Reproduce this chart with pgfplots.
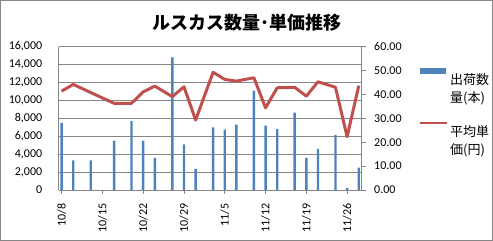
\documentclass[border=0pt]{standalone}
\usepackage{fontspec}
\setmainfont{Carlito}
\newfontfamily\cjk{Noto Sans CJK JP}
\usepackage{pgfplots}
\pgfplotsset{compat=1.18}
\usepackage{pgfplotstable}
\definecolor{barblue}{HTML}{4F81BD}
\definecolor{linered}{HTML}{C0504D}
\definecolor{gridgray}{HTML}{868686}
\pgfplotstableread{
day qty price
0 7500 41.4
2 3300 44.2
5 3300 40.8
9 5500 36.3
12 7700 36.3
14 5500 41.1
16 3600 43.5
19 14800 39.1
21 5100 43.2
23 2350 29.3
26 7000 49.3
28 6750 46.3
30 7300 45.6
33 11100 47.0
35 7200 34.4
37 6800 42.8
40 8650 43.0
42 3600 39.3
44 4600 45.3
47 6150 43.0
49 200 22.3
51 2500 43.7
}\data
\begin{document}
\begin{tikzpicture}
\begin{axis}[
  at={(58.7pt,51pt)}, anchor=south west,
  scale only axis, width=303pt, height=143.3pt,
  xmin=-0.5, xmax=51.5, ymin=0, ymax=16000,
  axis y line*=left, axis x line*=bottom,
  axis line style={-, gridgray, line width=0.8pt},
  ytick={0,2000,...,16000},
  scaled y ticks=false,
  xtick={0,7,...,49},
  xticklabels={10/8,10/15,10/22,10/29,11/5,11/12,11/19,11/26},
  x tick label style={yshift=-6pt, rotate=90, anchor=east},
  y tick label style={xshift=-9pt},
  yticklabel style={/pgf/number format/.cd, fixed, 1000 sep={,}, assume math mode=true},
  ymajorgrids, grid style={gridgray, line width=0.8pt},
  tick style={gridgray, line width=0.8pt},
  ytick style={draw=none},
  tick align=outside, major tick length=4pt,
  tick label style={font=\fontsize{12}{14}\selectfont},
]
\addplot[ybar, bar width=2.4pt, fill=barblue, draw=none] table[x=day,y=qty]{\data};
\end{axis}
\begin{axis}[
  at={(58.7pt,51pt)}, anchor=south west,
  scale only axis, width=303pt, height=143.3pt,
  xmin=-0.5, xmax=51.5, ymin=0, ymax=60,
  axis y line*=right, axis x line=none,
  axis line style={-, gridgray, line width=0.8pt},
  ytick={0,10,...,60},
  tick style={gridgray, line width=0.8pt},
  tick align=outside, major tick length=4pt,
  y tick label style={xshift=5pt},
  tick label style={font=\fontsize{12}{14}\selectfont},
  yticklabel style={/pgf/number format/.cd, fixed, fixed zerofill, precision=2, assume math mode=true},
  legend style={draw=none, fill=none, at={(1.178,0.538)}, anchor=west,
    font=\cjk\fontsize{13}{18}\selectfont, cells={anchor=west, align=left},
    nodes={inner xsep=1.5pt},
    row sep=16pt},
  legend cell align=left,
]
\addlegendimage{legend image code/.code={\fill[barblue] (0pt,15.5pt) rectangle (25pt,20.5pt);}}
\addlegendentry{出荷数\\量(本)}
\addplot[linered, line width=3pt, line join=round, mark=none,
  legend image code/.code={\draw[linered,line width=2.8pt] (0pt,18pt) -- (27pt,18pt);}]
  table[x=day,y=price]{\data};
\addlegendentry{平均単\\価(円)}
\end{axis}
\node[font=\cjk\bfseries\fontsize{18}{20}\selectfont] at (246.7pt,218pt) {ルスカス数量･単価推移};
\draw[gridgray, line width=0.8pt] (0.5pt,0.5pt) rectangle (492.5pt,240.5pt);
\pgfresetboundingbox
\path[use as bounding box] (0,0) rectangle (493pt,241pt);
\end{tikzpicture}
\end{document}
